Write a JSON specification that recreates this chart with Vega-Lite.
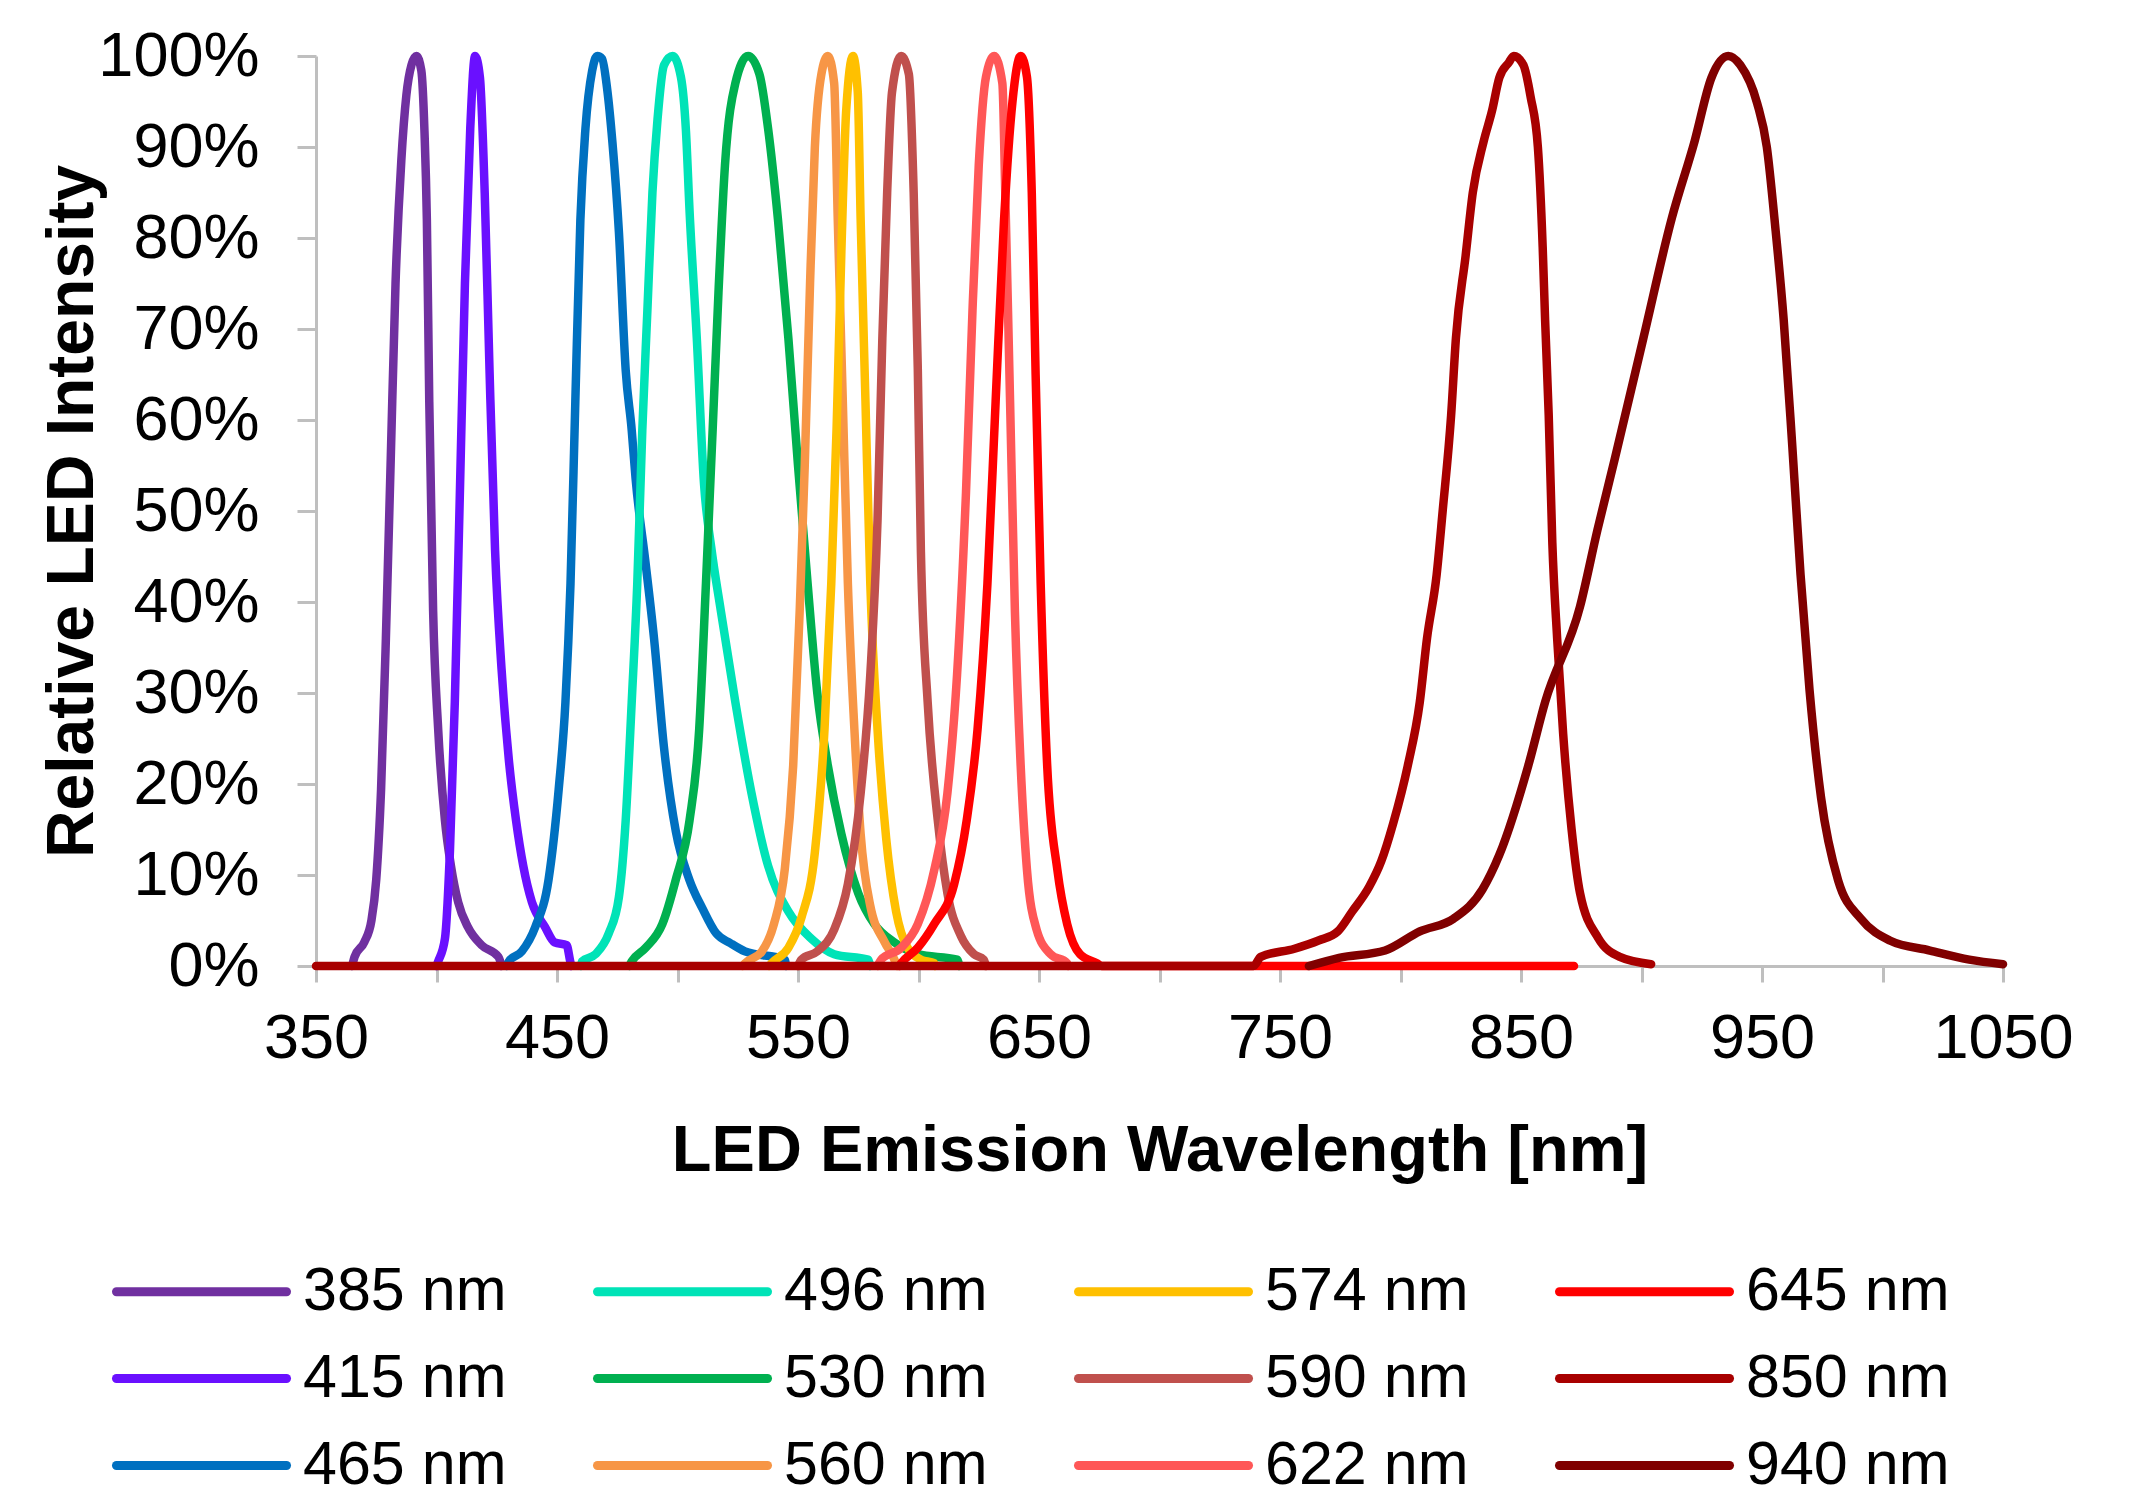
{
"$schema": "https://vega.github.io/schema/vega-lite/v6.json",
"width": 1687, "height": 910,
"autosize": {"type": "none"},
"padding": {"left": 316, "top": 56, "right": 131, "bottom": 536},
"background": "white",
"config": {"view": {"stroke": null}, "font": "Liberation Sans"},
"datasets": {"spectra": [
{"s":"385 nm","x":365,"y":0},{"s":"385 nm","x":366,"y":0.01},{"s":"385 nm","x":370,"y":0.026},{"s":"385 nm","x":373,"y":0.05},{"s":"385 nm","x":375,"y":0.095},{"s":"385 nm","x":377,"y":0.194},{"s":"385 nm","x":379,"y":0.36},{"s":"385 nm","x":381,"y":0.556},{"s":"385 nm","x":383,"y":0.75},{"s":"385 nm","x":385.4,"y":0.885},{"s":"385 nm","x":387.5,"y":0.957},{"s":"385 nm","x":389.6,"y":0.99},{"s":"385 nm","x":391.7,"y":1.0},{"s":"385 nm","x":393.7,"y":0.984},{"s":"385 nm","x":395,"y":0.918},{"s":"385 nm","x":396,"y":0.82},{"s":"385 nm","x":397,"y":0.62},{"s":"385 nm","x":398.6,"y":0.39},{"s":"385 nm","x":400.7,"y":0.26},{"s":"385 nm","x":403.5,"y":0.16},{"s":"385 nm","x":406,"y":0.11},{"s":"385 nm","x":409,"y":0.07},{"s":"385 nm","x":413,"y":0.043},{"s":"385 nm","x":418.7,"y":0.023},{"s":"385 nm","x":425.7,"y":0.01},{"s":"385 nm","x":427,"y":0},
{"s":"415 nm","x":400,"y":0},{"s":"415 nm","x":400.7,"y":0.005},{"s":"415 nm","x":403.5,"y":0.03},{"s":"415 nm","x":405.6,"y":0.128},{"s":"415 nm","x":407.6,"y":0.29},{"s":"415 nm","x":409.7,"y":0.52},{"s":"415 nm","x":411.8,"y":0.75},{"s":"415 nm","x":414,"y":0.92},{"s":"415 nm","x":416,"y":1.0},{"s":"415 nm","x":418,"y":0.977},{"s":"415 nm","x":420,"y":0.85},{"s":"415 nm","x":422,"y":0.655},{"s":"415 nm","x":424.3,"y":0.457},{"s":"415 nm","x":427,"y":0.326},{"s":"415 nm","x":430,"y":0.227},{"s":"415 nm","x":433,"y":0.16},{"s":"415 nm","x":436,"y":0.11},{"s":"415 nm","x":439.6,"y":0.07},{"s":"415 nm","x":445,"y":0.043},{"s":"415 nm","x":449,"y":0.026},{"s":"415 nm","x":454,"y":0.023},{"s":"415 nm","x":455.5,"y":0.005},{"s":"415 nm","x":456,"y":0},
{"s":"465 nm","x":429,"y":0},{"s":"465 nm","x":430,"y":0.005},{"s":"465 nm","x":435.4,"y":0.016},{"s":"465 nm","x":441,"y":0.043},{"s":"465 nm","x":446.5,"y":0.095},{"s":"465 nm","x":450.7,"y":0.194},{"s":"465 nm","x":453.5,"y":0.29},{"s":"465 nm","x":455.6,"y":0.42},{"s":"465 nm","x":457.6,"y":0.62},{"s":"465 nm","x":459.7,"y":0.82},{"s":"465 nm","x":461.8,"y":0.92},{"s":"465 nm","x":464.6,"y":0.984},{"s":"465 nm","x":466.7,"y":1.0},{"s":"465 nm","x":468.7,"y":0.997},{"s":"465 nm","x":470.8,"y":0.964},{"s":"465 nm","x":473,"y":0.905},{"s":"465 nm","x":475.7,"y":0.806},{"s":"465 nm","x":478.5,"y":0.655},{"s":"465 nm","x":481,"y":0.589},{"s":"465 nm","x":482.6,"y":0.536},{"s":"465 nm","x":486.7,"y":0.444},{"s":"465 nm","x":490.3,"y":0.359},{"s":"465 nm","x":494.4,"y":0.24},{"s":"465 nm","x":499.3,"y":0.148},{"s":"465 nm","x":504.9,"y":0.095},{"s":"465 nm","x":510.4,"y":0.063},{"s":"465 nm","x":516,"y":0.036},{"s":"465 nm","x":522,"y":0.025},{"s":"465 nm","x":528,"y":0.016},{"s":"465 nm","x":544.5,"y":0.007},{"s":"465 nm","x":545,"y":0},
{"s":"496 nm","x":460,"y":0},{"s":"496 nm","x":460.4,"y":0.005},{"s":"496 nm","x":466,"y":0.013},{"s":"496 nm","x":471.5,"y":0.036},{"s":"496 nm","x":475.7,"y":0.076},{"s":"496 nm","x":478.5,"y":0.16},{"s":"496 nm","x":481,"y":0.29},{"s":"496 nm","x":483.3,"y":0.42},{"s":"496 nm","x":485.4,"y":0.589},{"s":"496 nm","x":487.5,"y":0.72},{"s":"496 nm","x":489.6,"y":0.85},{"s":"496 nm","x":491.7,"y":0.93},{"s":"496 nm","x":494.4,"y":0.99},{"s":"496 nm","x":498,"y":1.0},{"s":"496 nm","x":501.4,"y":0.977},{"s":"496 nm","x":503.5,"y":0.918},{"s":"496 nm","x":505,"y":0.83},{"s":"496 nm","x":508,"y":0.69},{"s":"496 nm","x":511,"y":0.53},{"s":"496 nm","x":514,"y":0.46},{"s":"496 nm","x":518,"y":0.39},{"s":"496 nm","x":524,"y":0.29},{"s":"496 nm","x":530.7,"y":0.19},{"s":"496 nm","x":537.6,"y":0.11},{"s":"496 nm","x":546,"y":0.06},{"s":"496 nm","x":555.5,"y":0.03},{"s":"496 nm","x":565,"y":0.013},{"s":"496 nm","x":579,"y":0.007},{"s":"496 nm","x":580,"y":0},
{"s":"530 nm","x":480,"y":0},{"s":"530 nm","x":481,"y":0.005},{"s":"530 nm","x":486.8,"y":0.02},{"s":"530 nm","x":493.7,"y":0.046},{"s":"530 nm","x":499.3,"y":0.095},{"s":"530 nm","x":505,"y":0.16},{"s":"530 nm","x":509,"y":0.26},{"s":"530 nm","x":511.8,"y":0.42},{"s":"530 nm","x":514.6,"y":0.59},{"s":"530 nm","x":517,"y":0.74},{"s":"530 nm","x":519.7,"y":0.88},{"s":"530 nm","x":524,"y":0.97},{"s":"530 nm","x":529.3,"y":1.0},{"s":"530 nm","x":534,"y":0.98},{"s":"530 nm","x":537.6,"y":0.92},{"s":"530 nm","x":541.7,"y":0.82},{"s":"530 nm","x":546,"y":0.69},{"s":"530 nm","x":550,"y":0.55},{"s":"530 nm","x":554,"y":0.42},{"s":"530 nm","x":558,"y":0.3},{"s":"530 nm","x":562.4,"y":0.22},{"s":"530 nm","x":568,"y":0.145},{"s":"530 nm","x":575,"y":0.08},{"s":"530 nm","x":581.7,"y":0.046},{"s":"530 nm","x":590,"y":0.026},{"s":"530 nm","x":599.7,"y":0.013},{"s":"530 nm","x":616,"y":0.007},{"s":"530 nm","x":617,"y":0},
{"s":"560 nm","x":527,"y":0},{"s":"560 nm","x":528,"y":0.003},{"s":"560 nm","x":535,"y":0.016},{"s":"560 nm","x":540,"y":0.046},{"s":"560 nm","x":544.5,"y":0.106},{"s":"560 nm","x":548,"y":0.22},{"s":"560 nm","x":550.7,"y":0.39},{"s":"560 nm","x":552.8,"y":0.55},{"s":"560 nm","x":555,"y":0.75},{"s":"560 nm","x":557,"y":0.9},{"s":"560 nm","x":559.7,"y":0.98},{"s":"560 nm","x":562.4,"y":1.0},{"s":"560 nm","x":565,"y":0.97},{"s":"560 nm","x":566.5,"y":0.82},{"s":"560 nm","x":568.6,"y":0.62},{"s":"560 nm","x":570.7,"y":0.42},{"s":"560 nm","x":573.4,"y":0.26},{"s":"560 nm","x":576,"y":0.145},{"s":"560 nm","x":580,"y":0.066},{"s":"560 nm","x":586,"y":0.026},{"s":"560 nm","x":590,"y":0.007},{"s":"560 nm","x":591,"y":0},
{"s":"574 nm","x":538,"y":0},{"s":"574 nm","x":539,"y":0.003},{"s":"574 nm","x":546,"y":0.02},{"s":"574 nm","x":551.4,"y":0.053},{"s":"574 nm","x":557,"y":0.125},{"s":"574 nm","x":561,"y":0.26},{"s":"574 nm","x":563.8,"y":0.42},{"s":"574 nm","x":566,"y":0.59},{"s":"574 nm","x":568,"y":0.785},{"s":"574 nm","x":570,"y":0.94},{"s":"574 nm","x":572.8,"y":1.0},{"s":"574 nm","x":574.8,"y":0.96},{"s":"574 nm","x":576,"y":0.82},{"s":"574 nm","x":578,"y":0.62},{"s":"574 nm","x":580,"y":0.42},{"s":"574 nm","x":583,"y":0.26},{"s":"574 nm","x":586.6,"y":0.14},{"s":"574 nm","x":590.7,"y":0.06},{"s":"574 nm","x":595.5,"y":0.02},{"s":"574 nm","x":601,"y":0.007},{"s":"574 nm","x":606.6,"y":0.003},{"s":"574 nm","x":607,"y":0},
{"s":"590 nm","x":550,"y":0},{"s":"590 nm","x":551.4,"y":0.007},{"s":"590 nm","x":558,"y":0.016},{"s":"590 nm","x":565,"y":0.04},{"s":"590 nm","x":570.7,"y":0.09},{"s":"590 nm","x":576,"y":0.19},{"s":"590 nm","x":580,"y":0.32},{"s":"590 nm","x":583,"y":0.49},{"s":"590 nm","x":585,"y":0.69},{"s":"590 nm","x":587,"y":0.85},{"s":"590 nm","x":589,"y":0.96},{"s":"590 nm","x":592.8,"y":1.0},{"s":"590 nm","x":596,"y":0.98},{"s":"590 nm","x":598,"y":0.85},{"s":"590 nm","x":599.7,"y":0.657},{"s":"590 nm","x":601,"y":0.455},{"s":"590 nm","x":603.8,"y":0.29},{"s":"590 nm","x":608,"y":0.16},{"s":"590 nm","x":612,"y":0.08},{"s":"590 nm","x":617.6,"y":0.033},{"s":"590 nm","x":623,"y":0.013},{"s":"590 nm","x":627,"y":0.007},{"s":"590 nm","x":628,"y":0},
{"s":"622 nm","x":583,"y":0},{"s":"622 nm","x":584.5,"y":0.007},{"s":"622 nm","x":592.8,"y":0.02},{"s":"622 nm","x":599.7,"y":0.046},{"s":"622 nm","x":606.5,"y":0.105},{"s":"622 nm","x":612,"y":0.19},{"s":"622 nm","x":616,"y":0.32},{"s":"622 nm","x":619.7,"y":0.52},{"s":"622 nm","x":622.4,"y":0.72},{"s":"622 nm","x":625,"y":0.88},{"s":"622 nm","x":628,"y":0.977},{"s":"622 nm","x":631.4,"y":1.0},{"s":"622 nm","x":634.8,"y":0.97},{"s":"622 nm","x":636,"y":0.85},{"s":"622 nm","x":638,"y":0.62},{"s":"622 nm","x":640,"y":0.39},{"s":"622 nm","x":642.4,"y":0.22},{"s":"622 nm","x":645,"y":0.106},{"s":"622 nm","x":649,"y":0.04},{"s":"622 nm","x":654.8,"y":0.013},{"s":"622 nm","x":661.7,"y":0.003},{"s":"622 nm","x":662,"y":0},
{"s":"645 nm","x":592,"y":0},{"s":"645 nm","x":592.8,"y":0.003},{"s":"645 nm","x":599.7,"y":0.02},{"s":"645 nm","x":606.5,"y":0.046},{"s":"645 nm","x":614.8,"y":0.09},{"s":"645 nm","x":620,"y":0.16},{"s":"645 nm","x":624.5,"y":0.26},{"s":"645 nm","x":628.6,"y":0.42},{"s":"645 nm","x":632,"y":0.62},{"s":"645 nm","x":635.5,"y":0.82},{"s":"645 nm","x":639,"y":0.95},{"s":"645 nm","x":642.4,"y":1.0},{"s":"645 nm","x":645,"y":0.977},{"s":"645 nm","x":647,"y":0.85},{"s":"645 nm","x":648.6,"y":0.65},{"s":"645 nm","x":650.7,"y":0.42},{"s":"645 nm","x":653.4,"y":0.22},{"s":"645 nm","x":657.6,"y":0.106},{"s":"645 nm","x":661.7,"y":0.046},{"s":"645 nm","x":667,"y":0.013},{"s":"645 nm","x":674,"y":0.003},{"s":"645 nm","x":676,"y":0},{"s":"645 nm","x":872,"y":0},
{"s":"850 nm","x":350,"y":0},{"s":"850 nm","x":739,"y":0},{"s":"850 nm","x":742,"y":0.01},{"s":"850 nm","x":756,"y":0.019},{"s":"850 nm","x":766,"y":0.028},{"s":"850 nm","x":774,"y":0.038},{"s":"850 nm","x":780,"y":0.06},{"s":"850 nm","x":787,"y":0.087},{"s":"850 nm","x":792,"y":0.115},{"s":"850 nm","x":797,"y":0.157},{"s":"850 nm","x":803,"y":0.22},{"s":"850 nm","x":808,"y":0.29},{"s":"850 nm","x":811,"y":0.36},{"s":"850 nm","x":815,"y":0.43},{"s":"850 nm","x":817.5,"y":0.5},{"s":"850 nm","x":821,"y":0.605},{"s":"850 nm","x":823,"y":0.69},{"s":"850 nm","x":827,"y":0.78},{"s":"850 nm","x":830,"y":0.85},{"s":"850 nm","x":834.5,"y":0.906},{"s":"850 nm","x":838,"y":0.94},{"s":"850 nm","x":841,"y":0.976},{"s":"850 nm","x":845,"y":0.993},{"s":"850 nm","x":847,"y":1.0},{"s":"850 nm","x":851,"y":0.99},{"s":"850 nm","x":854,"y":0.955},{"s":"850 nm","x":857,"y":0.9},{"s":"850 nm","x":859,"y":0.79},{"s":"850 nm","x":860,"y":0.71},{"s":"850 nm","x":861.5,"y":0.605},{"s":"850 nm","x":863,"y":0.465},{"s":"850 nm","x":865,"y":0.36},{"s":"850 nm","x":867.5,"y":0.255},{"s":"850 nm","x":871,"y":0.15},{"s":"850 nm","x":874.5,"y":0.08},{"s":"850 nm","x":882,"y":0.031},{"s":"850 nm","x":891,"y":0.01},{"s":"850 nm","x":904,"y":0.002},
{"s":"940 nm","x":762,"y":0},{"s":"940 nm","x":774.5,"y":0.009},{"s":"940 nm","x":793.6,"y":0.017},{"s":"940 nm","x":808,"y":0.038},{"s":"940 nm","x":822,"y":0.052},{"s":"940 nm","x":834,"y":0.084},{"s":"940 nm","x":841,"y":0.122},{"s":"940 nm","x":853,"y":0.22},{"s":"940 nm","x":860,"y":0.29},{"s":"940 nm","x":874.5,"y":0.395},{"s":"940 nm","x":881.7,"y":0.479},{"s":"940 nm","x":888.8,"y":0.556},{"s":"940 nm","x":900.7,"y":0.689},{"s":"940 nm","x":912.6,"y":0.822},{"s":"940 nm","x":922,"y":0.906},{"s":"940 nm","x":929,"y":0.976},{"s":"940 nm","x":936,"y":1.0},{"s":"940 nm","x":941,"y":0.99},{"s":"940 nm","x":948,"y":0.948},{"s":"940 nm","x":952,"y":0.9},{"s":"940 nm","x":955.4,"y":0.815},{"s":"940 nm","x":959,"y":0.71},{"s":"940 nm","x":962.6,"y":0.57},{"s":"940 nm","x":966,"y":0.43},{"s":"940 nm","x":969.7,"y":0.304},{"s":"940 nm","x":974.5,"y":0.185},{"s":"940 nm","x":981.6,"y":0.094},{"s":"940 nm","x":991,"y":0.052},{"s":"940 nm","x":1003,"y":0.028},{"s":"940 nm","x":1019.7,"y":0.017},{"s":"940 nm","x":1036,"y":0.007},{"s":"940 nm","x":1050,"y":0.002}
]},
"data": {"name": "spectra"},
"mark": {"type": "line", "strokeWidth": 8.5, "interpolate": "monotone", "strokeCap": "round", "strokeJoin": "round"},
"encoding": {
  "x": {"field": "x", "type": "quantitative",
    "scale": {"domain": [350, 1050], "nice": false, "zero": false},
    "axis": {"title": "LED Emission Wavelength [nm]", "format": "d", "values": [350,400,450,500,550,600,650,700,750,800,850,900,950,1000,1050],
      "labelExpr": "datum.value % 100 == 50 ? datum.label : ''", "grid": false,
      "domainColor": "#BFBFBF", "domainWidth": 3, "tickColor": "#BFBFBF", "tickWidth": 3, "tickSize": 16,
      "labelFontSize": 63, "labelPadding": 25, "labelColor": "black", "labelFlush": false, "labelOverlap": false,
      "titleFontSize": 65, "titleFontWeight": "bold", "titlePadding": 49, "titleColor": "black"}},
  "y": {"field": "y", "type": "quantitative",
    "scale": {"domain": [0, 1], "nice": false},
    "axis": {"title": "Relative LED Intensity", "format": ".0%", "values": [0,0.1,0.2,0.3,0.4,0.5,0.6,0.7,0.8,0.9,1],
      "grid": false, "domainColor": "#BFBFBF", "domainWidth": 3, "tickColor": "#BFBFBF", "tickWidth": 3, "tickSize": 19,
      "labelFontSize": 63, "labelPadding": 38, "labelColor": "black", "labelFlush": false, "labelOverlap": false,
      "titleFontSize": 66, "titleFontWeight": "bold", "titlePadding": 10, "titleColor": "black"}},
  "color": {"field": "s", "type": "nominal",
    "scale": {"domain": ["385 nm","496 nm","574 nm","645 nm","415 nm","530 nm","590 nm","850 nm","465 nm","560 nm","622 nm","940 nm"],
      "range": ["#7030A0","#00E3B7","#FFC000","#FF0000","#6A10FF","#00B050","#C0504D","#A80000","#0070C0","#F79646","#FF5757","#800000"]},
    "legend": {"orient": "none", "legendX": -204, "legendY": 1201, "direction": "horizontal", "columns": 4, "title": null,
      "symbolType": "M-1,0L4.667,0", "symbolSize": 3600, "symbolStrokeWidth": 9,
      "labelFontSize": 61, "labelOffset": 122, "labelColor": "black", "labelLimit": 400,
      "columnPadding": 72, "rowPadding": 22,
      "encode": {"symbols": {"update": {"strokeCap": {"value": "round"}}}}}}
}
}
